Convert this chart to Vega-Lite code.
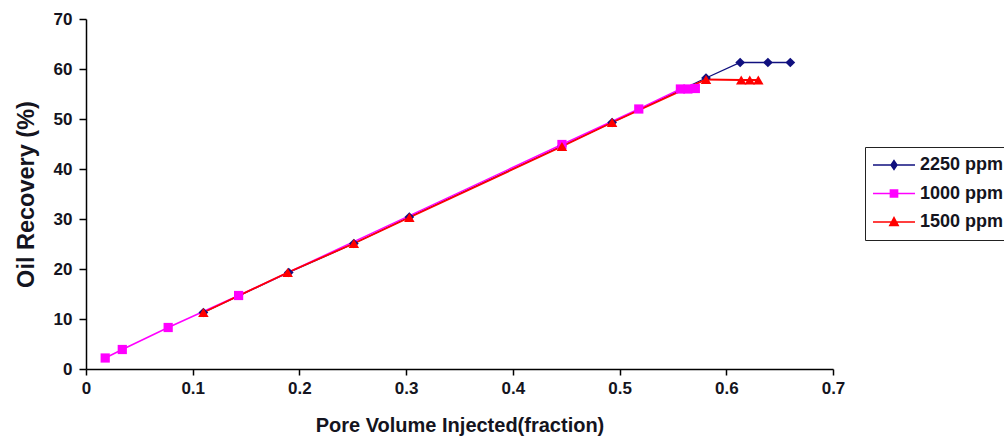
{
  "$schema": "https://vega.github.io/schema/vega-lite/v6.json",
  "width": 747,
  "height": 350,
  "autosize": "none",
  "padding": {"left": 86, "top": 19, "right": 171, "bottom": 69},
  "background": "white",
  "config": {
    "view": {"stroke": null},
    "axis": {
      "grid": false,
      "domainColor": "#000",
      "domainWidth": 1.5,
      "tickColor": "#000",
      "tickWidth": 1.5,
      "labelFont": "Liberation Sans",
      "labelFontWeight": "bold",
      "labelFontSize": 17,
      "labelColor": "#141420",
      "titleFont": "Liberation Sans",
      "titleFontWeight": "bold",
      "titleColor": "#141420"
    }
  },
  "data": {
    "values": [
      {"series": "2250 ppm", "pv": 0.110, "rec": 11.3},
      {"series": "2250 ppm", "pv": 0.190, "rec": 19.3},
      {"series": "2250 ppm", "pv": 0.251, "rec": 25.1},
      {"series": "2250 ppm", "pv": 0.303, "rec": 30.4},
      {"series": "2250 ppm", "pv": 0.446, "rec": 44.6},
      {"series": "2250 ppm", "pv": 0.493, "rec": 49.3},
      {"series": "2250 ppm", "pv": 0.581, "rec": 58.2},
      {"series": "2250 ppm", "pv": 0.613, "rec": 61.3},
      {"series": "2250 ppm", "pv": 0.639, "rec": 61.3},
      {"series": "2250 ppm", "pv": 0.660, "rec": 61.3},
      {"series": "1000 ppm", "pv": 0.018, "rec": 2.2},
      {"series": "1000 ppm", "pv": 0.034, "rec": 3.9},
      {"series": "1000 ppm", "pv": 0.077, "rec": 8.3},
      {"series": "1000 ppm", "pv": 0.143, "rec": 14.7},
      {"series": "1000 ppm", "pv": 0.446, "rec": 44.9},
      {"series": "1000 ppm", "pv": 0.518, "rec": 52.0},
      {"series": "1000 ppm", "pv": 0.557, "rec": 56.0},
      {"series": "1000 ppm", "pv": 0.564, "rec": 56.0},
      {"series": "1000 ppm", "pv": 0.571, "rec": 56.1},
      {"series": "1500 ppm", "pv": 0.110, "rec": 11.3},
      {"series": "1500 ppm", "pv": 0.189, "rec": 19.3},
      {"series": "1500 ppm", "pv": 0.251, "rec": 25.1},
      {"series": "1500 ppm", "pv": 0.303, "rec": 30.3},
      {"series": "1500 ppm", "pv": 0.446, "rec": 44.5},
      {"series": "1500 ppm", "pv": 0.493, "rec": 49.3},
      {"series": "1500 ppm", "pv": 0.581, "rec": 57.9},
      {"series": "1500 ppm", "pv": 0.614, "rec": 57.8},
      {"series": "1500 ppm", "pv": 0.622, "rec": 57.8},
      {"series": "1500 ppm", "pv": 0.630, "rec": 57.8}
    ]
  },
  "encoding": {
    "x": {
      "field": "pv",
      "type": "quantitative",
      "scale": {"domain": [0, 0.7], "nice": false, "zero": false},
      "axis": {
        "title": "Pore Volume Injected(fraction)",
        "titleFontSize": 20,
        "titlePadding": 19,
        "values": [0, 0.1, 0.2, 0.3, 0.4, 0.5, 0.6, 0.7],
        "format": "~g",
        "tickSize": 6,
        "labelPadding": 5,
        "labelFlush": false
      }
    },
    "y": {
      "field": "rec",
      "type": "quantitative",
      "scale": {"domain": [0, 70], "nice": false},
      "axis": {
        "title": "Oil Recovery (%)",
        "titleFontSize": 23.5,
        "titleX": -48,
        "values": [0, 10, 20, 30, 40, 50, 60, 70],
        "tickSize": 7,
        "labelPadding": 7,
        "labelFlush": false
      }
    },
    "color": {
      "field": "series",
      "type": "nominal",
      "scale": {
        "domain": ["2250 ppm", "1000 ppm", "1500 ppm"],
        "range": ["#10107f", "#ff00ff", "#ff0000"]
      },
      "legend": {
        "title": null,
        "orient": "none",
        "legendX": 779,
        "legendY": 128,
        "padding": 9,
        "strokeColor": "#222",
        "fillColor": "white",
        "symbolSize": 64,
        "symbolStrokeWidth": 1.5,
        "symbolOffset": 11,
        "labelOffset": 17,
        "rowPadding": 10.5,
        "labelFont": "Liberation Sans",
        "labelFontWeight": "bold",
        "labelFontSize": 18,
        "labelColor": "#141420",
        "encode": {
          "symbols": {
            "update": {
              "shape": {"signal": "datum.value == '2250 ppm' ? 'M-5.25,0H5.25M0,-1.1L0.75,0L0,1.1L-0.75,0Z' : (datum.value == '1000 ppm' ? 'M-5.25,0H5.25M-0.9,-0.9H0.9V0.9H-0.9Z' : 'M-5.25,0H5.25M0,-1.1L1.05,0.85H-1.05Z')"},
              "stroke": {"scale": "color", "field": "value"},
              "fill": {"scale": "color", "field": "value"},
              "strokeWidth": {"value": 1.5},
              "opacity": {"value": 1}
            }
          }
        }
      }
    }
  },
  "layer": [
    {
      "transform": [{"filter": "datum.series == '2250 ppm'"}],
      "mark": {"type": "line", "strokeWidth": 1.3}
    },
    {
      "transform": [{"filter": "datum.series == '1000 ppm'"}],
      "mark": {"type": "line", "strokeWidth": 1.5}
    },
    {
      "transform": [{"filter": "datum.series == '1500 ppm'"}],
      "mark": {"type": "line", "strokeWidth": 1.8}
    },
    {
      "transform": [{"filter": "datum.series == '2250 ppm'"}],
      "mark": {"type": "point", "shape": "diamond", "size": 95, "filled": true, "opacity": 1, "strokeWidth": 0}
    },
    {
      "transform": [{"filter": "datum.series == '1000 ppm'"}],
      "mark": {"type": "point", "shape": "square", "size": 85, "filled": true, "opacity": 1, "strokeWidth": 0}
    },
    {
      "transform": [{"filter": "datum.series == '1500 ppm'"}],
      "mark": {"type": "point", "shape": "triangle-up", "size": 110, "filled": true, "opacity": 1, "strokeWidth": 0}
    }
  ]
}
